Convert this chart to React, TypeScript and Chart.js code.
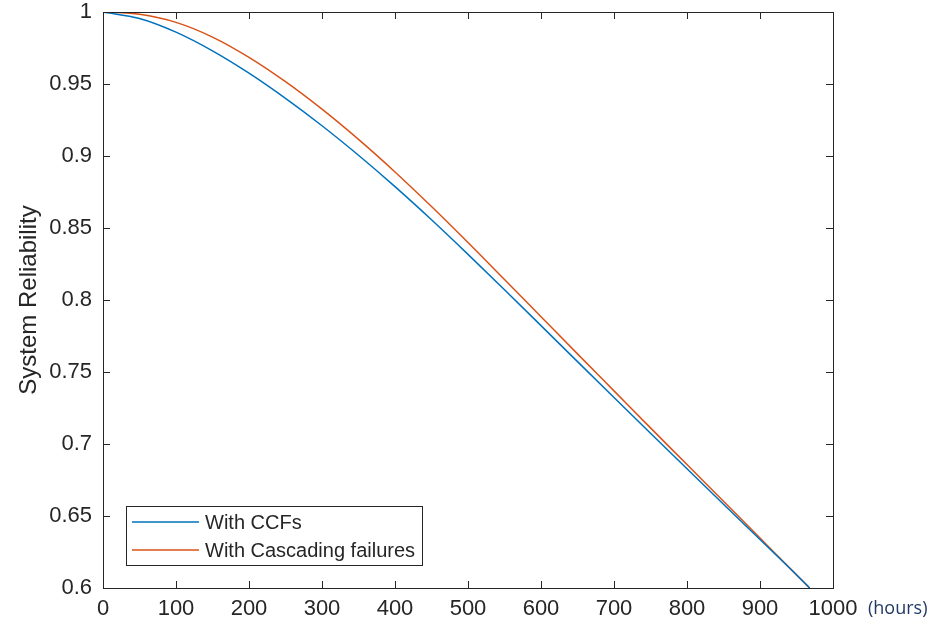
import React, { useEffect, useRef } from "react";
import { Chart, registerables } from "chart.js";

Chart.register(...registerables);

const hours = [0, 50, 100, 150, 200, 250, 300, 350, 400, 450, 500, 550, 600, 650, 700, 750, 800, 850, 900, 950, 968];
const withCCFs = [1.0, 0.9955, 0.986, 0.973, 0.9575, 0.94, 0.921, 0.9005, 0.8787, 0.8557, 0.8317, 0.8071, 0.7822, 0.7572, 0.7323, 0.7075, 0.6828, 0.6582, 0.6337, 0.6092, 0.6];
const withCascading = [1.0, 0.9984, 0.9928, 0.9826, 0.9685, 0.9516, 0.9325, 0.9115, 0.8889, 0.8649, 0.8399, 0.8142, 0.7884, 0.7626, 0.7369, 0.7112, 0.6857, 0.6602, 0.6347, 0.6091, 0.6];
const seriesNames = ["With CCFs", "With Cascading failures"];
const seriesColors = ["#0072BD", "#D95319"];
const yTitle = "System Reliability";
const unitLabel = "(hours)";

const AXIS_COLOR = "#262626";
const FONT = "'Liberation Sans', Arial, Helvetica, sans-serif";

const decorPlugin = {
  id: "decor",
  afterDraw(chart: any) {
    const { ctx, chartArea } = chart;
    const { left, right, top, bottom } = chartArea;
    const xs = chart.scales.x;
    const ys = chart.scales.y;
    ctx.save();
    ctx.strokeStyle = AXIS_COLOR;
    ctx.lineWidth = 1;
    ctx.strokeRect(Math.round(left) + 0.5, Math.round(top) + 0.5, Math.round(right - left), Math.round(bottom - top));
    const tl = 7;
    ctx.beginPath();
    xs.ticks.forEach((t: any) => {
      const px = Math.round(xs.getPixelForValue(t.value)) + 0.5;
      ctx.moveTo(px, bottom);
      ctx.lineTo(px, bottom - tl);
      ctx.moveTo(px, top);
      ctx.lineTo(px, top + tl);
    });
    ys.ticks.forEach((t: any) => {
      const py = Math.round(ys.getPixelForValue(t.value)) + 0.5;
      ctx.moveTo(left, py);
      ctx.lineTo(left + tl, py);
      ctx.moveTo(right, py);
      ctx.lineTo(right - tl, py);
    });
    ctx.stroke();
    ctx.save();
    ctx.translate(29, (top + bottom) / 2);
    ctx.rotate(-Math.PI / 2);
    ctx.fillStyle = AXIS_COLOR;
    ctx.font = `24px ${FONT}`;
    ctx.textAlign = "center";
    ctx.textBaseline = "middle";
    ctx.fillText(yTitle, 0, 0);
    ctx.restore();
    ctx.fillStyle = "#203864";
    ctx.font = "18px 'Open Sans', 'Noto Sans', sans-serif";
    ctx.textAlign = "left";
    ctx.textBaseline = "middle";
    ctx.fillText(unitLabel, 868, 609);
    const lx = 126, ly = 506, lw = 296, lh = 59;
    ctx.fillStyle = "#ffffff";
    ctx.fillRect(lx, ly, lw, lh);
    ctx.strokeStyle = AXIS_COLOR;
    ctx.lineWidth = 1;
    ctx.strokeRect(lx + 0.5, ly + 0.5, lw, lh);
    ctx.font = `20px ${FONT}`;
    ctx.textBaseline = "middle";
    seriesNames.forEach((name, i) => {
      const y = ly + 16 + i * 28;
      ctx.strokeStyle = seriesColors[i];
      ctx.lineWidth = 1.5;
      ctx.beginPath();
      ctx.moveTo(lx + 6, y);
      ctx.lineTo(lx + 73, y);
      ctx.stroke();
      ctx.fillStyle = AXIS_COLOR;
      ctx.fillText(name, lx + 79, y + 1);
    });
    ctx.restore();
  },
};

export default function App() {
  const ref = useRef<HTMLCanvasElement>(null);
  useEffect(() => {
    if (!ref.current) return;
    const mk = (vals: number[]) => hours.map((h, i) => ({ x: h, y: vals[i] }));
    const chart = new Chart(ref.current, {
      type: "line",
      data: {
        datasets: [
          {
            label: seriesNames[0],
            data: mk(withCCFs),
            borderColor: seriesColors[0],
            borderWidth: 1.5,
            pointRadius: 0,
            cubicInterpolationMode: "monotone",
          },
          {
            label: seriesNames[1],
            data: mk(withCascading),
            borderColor: seriesColors[1],
            borderWidth: 1.5,
            pointRadius: 0,
            cubicInterpolationMode: "monotone",
          },
        ],
      },
      options: {
        animation: false,
        responsive: false,
        maintainAspectRatio: false,
        layout: { padding: { left: 0, top: 12, right: 109, bottom: 0 } },
        plugins: { legend: { display: false }, tooltip: { enabled: false } },
        scales: {
          x: {
            type: "linear",
            min: 0,
            max: 1000,
            grid: { display: false, drawTicks: false },
            border: { display: false },
            ticks: {
              stepSize: 100,
              color: AXIS_COLOR,
              font: { size: 22, family: FONT },
              padding: 8,
              maxRotation: 0,
              autoSkip: false,
              callback: (v: any) => String(v),
            },
            afterFit: (s: any) => {
              s.height = 37;
              s.paddingLeft = 0;
              s.paddingRight = 0;
            },
          },
          y: {
            type: "linear",
            min: 0.6,
            max: 1,
            grid: { display: false, drawTicks: false },
            border: { display: false },
            ticks: {
              stepSize: 0.05,
              color: AXIS_COLOR,
              font: { size: 22, family: FONT },
              padding: 11,
              callback: (v: any) => String(+Number(v).toFixed(2)),
            },
            afterFit: (s: any) => {
              s.width = 103;
              s.paddingTop = 0;
              s.paddingBottom = 0;
            },
          },
        },
      },
      plugins: [decorPlugin],
    });
    return () => chart.destroy();
  }, []);
  return (
    <div style={{ position: "absolute", left: 0, top: 0, width: 942, height: 625, background: "#fff" }}>
      <canvas ref={ref} width={942} height={625} style={{ width: 942, height: 625 }} />
    </div>
  );
}
